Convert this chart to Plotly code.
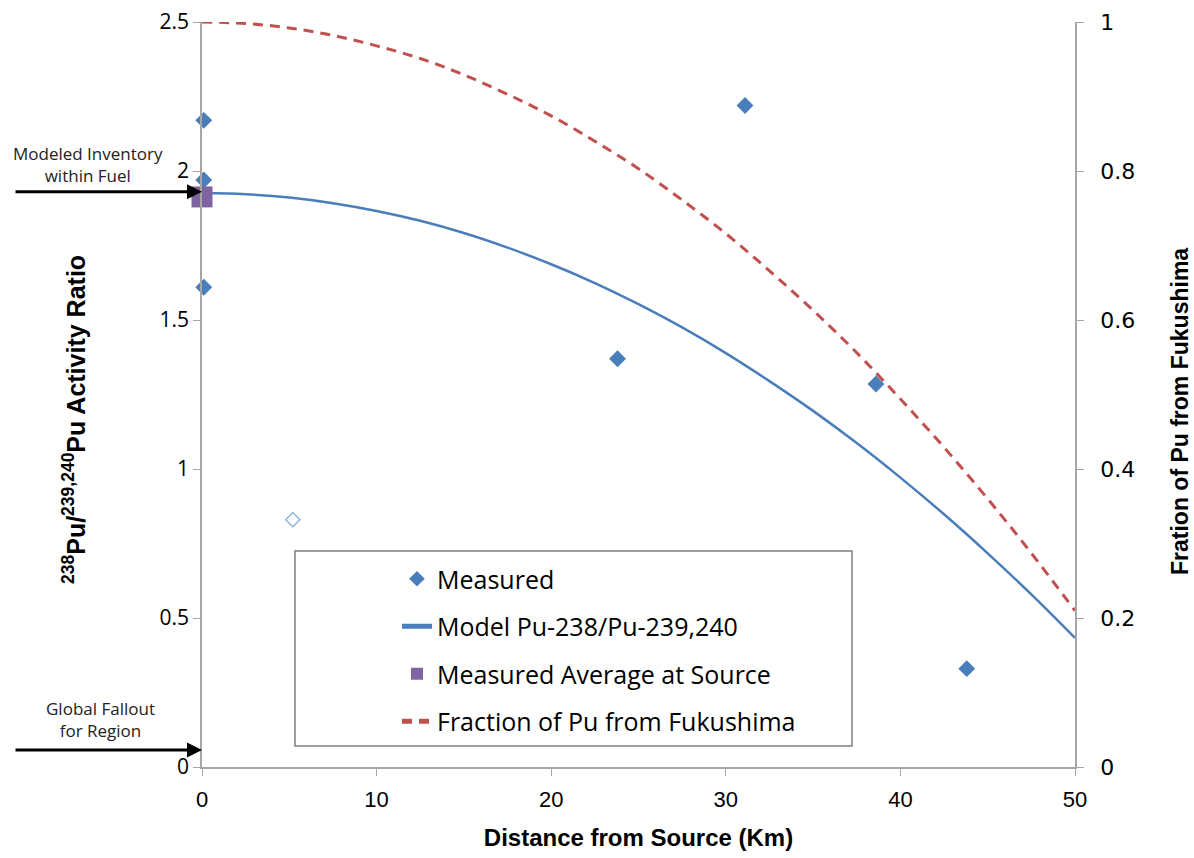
import plotly.graph_objects as go

# Measured points (filled diamonds)
meas_x = [0.1, 0.1, 0.1, 23.8, 31.1, 38.6, 43.8]
meas_y = [2.17, 1.97, 1.61, 1.37, 2.22, 1.285, 0.33]
# Open (hollow) measured point
open_x = [5.2]
open_y = [0.83]
# Measured average at source
avg_x = [0.0]
avg_y = [1.913]
# Model Pu-238/Pu-239,240
model_x = [0, 2.5, 5, 7.5, 10, 12.5, 15, 17.5, 20, 22.5, 25, 27.5, 30, 32.5, 35, 37.5, 40, 42.5, 45, 47.5, 50]
model_y = [1.926, 1.922, 1.911, 1.892, 1.866, 1.833, 1.792, 1.743, 1.687, 1.624, 1.553,
           1.475, 1.389, 1.295, 1.195, 1.087, 0.971, 0.848, 0.717, 0.579, 0.433]
# Fraction of Pu from Fukushima (right axis)
frac_x = [0, 2.5, 5, 7.5, 10, 12.5, 15, 17.5, 20, 22.5, 25, 27.5, 30, 32.5, 35, 37.5, 40, 42.5, 45, 47.5, 50]
frac_y = [1.0, 0.998, 0.992, 0.982, 0.968, 0.951, 0.929, 0.903, 0.874, 0.840, 0.803,
          0.761, 0.716, 0.666, 0.613, 0.556, 0.494, 0.429, 0.360, 0.287, 0.21]

# Tick values / labels
x_ticks = [0, 10, 20, 30, 40, 50]
y_ticks = [0, 0.5, 1, 1.5, 2, 2.5]
y_labels = ["0", "0.5", "1", "1.5", "2", "2.5"]
y2_ticks = [0, 0.2, 0.4, 0.6, 0.8, 1]
y2_labels = ["0", "0.2", "0.4", "0.6", "0.8", "1"]

BLUE = "#4A7EBB"
RED = "#C0504D"
PURPLE = "#8064A2"
AXIS = "#A6A6A6"
CF = "Liberation Sans Narrow, Arial Narrow, sans-serif"
NF = "Open Sans, sans-serif"

fig = go.Figure()
fig.add_trace(go.Scatter(x=meas_x, y=meas_y, mode="markers", name="Measured",
                         marker=dict(symbol="diamond", size=13, color=BLUE),
                         cliponaxis=False, legendgroup="a"))
fig.add_trace(go.Scatter(x=open_x, y=open_y, mode="markers", showlegend=False,
                         marker=dict(symbol="diamond-open", size=11, color="#8EB4E3", line=dict(width=1.5)),
                         cliponaxis=False))
fig.add_trace(go.Scatter(x=model_x, y=model_y, mode="lines", name="Model Pu-238/Pu-239,240",
                         line=dict(color=BLUE, width=2.5, shape="spline"), legendgroup="b"))
fig.add_trace(go.Scatter(x=avg_x, y=avg_y, mode="markers", name="Measured Average at Source",
                         marker=dict(symbol="square", size=21, color=PURPLE),
                         cliponaxis=False, legendgroup="c"))
fig.add_trace(go.Scatter(x=frac_x, y=frac_y, mode="lines", name="Fraction of Pu from Fukushima",
                         line=dict(color=RED, width=3, dash="10px,7px", shape="spline"),
                         yaxis="y2", legendgroup="d"))

L, R, T, B = 202, 119, 22, 91
W, H = 1194, 858
pw = W - L - R
ph = H - T - B

def px(x):
    return (x - L) / pw

def py(y):
    return (H - B - y) / ph

fig.update_layout(
    width=W, height=H,
    margin=dict(l=L, r=R, t=T, b=B, autoexpand=False),
    plot_bgcolor="white", paper_bgcolor="white",
    showlegend=True,
    legend=dict(x=px(397), y=py(556), xanchor="left", yanchor="top",
                bgcolor="rgba(0,0,0,0)", borderwidth=0,
                font=dict(family=NF, size=25, color="#000000"),
                tracegroupgap=12, itemsizing="constant"),
    xaxis=dict(range=[0, 50], tickvals=x_ticks, showgrid=False, zeroline=False,
               showline=True, linecolor=AXIS, linewidth=1.5,
               ticks="outside", ticklen=7, tickcolor=AXIS, ticklabelstandoff=5,
               tickfont=dict(family=CF, size=22, color="#000000"),
               title=dict(text="<b>Distance from Source (Km)</b>", font=dict(family=CF, size=24, color="#000000"), standoff=18)),
    yaxis=dict(range=[0, 2.5], tickvals=y_ticks, ticktext=y_labels, showgrid=False, zeroline=False,
               showline=True, linecolor=AXIS, linewidth=1.5,
               ticks="outside", ticklen=7, tickcolor=AXIS,
               tickfont=dict(family=NF, size=21, color="#000000")),
    yaxis2=dict(range=[0, 1], tickvals=y2_ticks, ticktext=y2_labels, overlaying="y", side="right",
                showgrid=False, zeroline=False,
                showline=True, linecolor=AXIS, linewidth=1.5,
                ticks="outside", ticklen=7, tickcolor=AXIS, ticklabelstandoff=12,
                tickfont=dict(family="DejaVu Sans, sans-serif", size=22, color="#000000")),
)

fig.add_shape(type="rect", xref="paper", yref="paper",
              x0=px(295), x1=px(852), y0=py(746), y1=py(551),
              line=dict(color="#7F7F7F", width=1.5), fillcolor="rgba(0,0,0,0)", layer="below")

# Axis titles
fig.add_annotation(xref="paper", yref="paper", x=px(74), y=py(420), showarrow=False,
                   xanchor="center", yanchor="middle",
                   text="<b><sup>238</sup>Pu/<sup>239,240</sup>Pu Activity Ratio</b>", textangle=-90,
                   font=dict(family=CF, size=25, color="#000000"))
fig.add_annotation(xref="paper", yref="paper", x=px(1180), y=py(412), showarrow=False,
                   xanchor="center", yanchor="middle",
                   text="<b>Fration of Pu from Fukushima</b>", textangle=-90,
                   font=dict(family=CF, size=23, color="#000000"))

# Arrow annotations
fig.add_annotation(xref="paper", yref="paper", x=px(88), y=py(164), showarrow=False,
                   xanchor="center", yanchor="middle",
                   text="Modeled Inventory<br>within Fuel", align="center",
                   font=dict(family=NF, size=17, color="#222222"))
fig.add_annotation(x=0, y=1.93, xref="x", yref="y", ax=-188, ay=0, text="",
                   showarrow=True, arrowhead=2, arrowsize=1, arrowwidth=3, arrowcolor="#000000")
fig.add_annotation(xref="paper", yref="paper", x=px(100), y=py(719), showarrow=False,
                   xanchor="center", yanchor="middle",
                   text="Global Fallout<br>for Region", align="center",
                   font=dict(family=NF, size=17, color="#222222"))
fig.add_annotation(x=0, y=0.057, xref="x", yref="y", ax=-188, ay=0, text="",
                   showarrow=True, arrowhead=2, arrowsize=1, arrowwidth=3, arrowcolor="#000000")

fig.write_html("out.html", config={"displayModeBar": False},
               post_script="document.body.style.margin='0';document.body.style.overflow='hidden';")
